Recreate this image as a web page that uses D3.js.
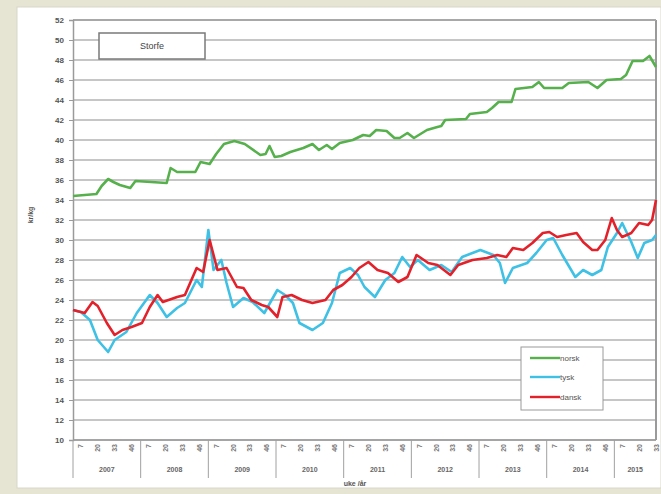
<!DOCTYPE html>
<html>
<head>
<meta charset="utf-8">
<script src="https://cdn.jsdelivr.net/npm/d3@7/dist/d3.min.js"></script>
<style>
  html, body { margin: 0; padding: 0; background: #e6e4d3; }
  svg { display: block; font-family: "Liberation Sans", Arial, sans-serif; }
</style>
</head>
<body>
<svg id="chart" width="661" height="494"></svg>
<script>
// ---- data (week index counted from week 1 of 2007) ----
const years = ["2007", "2008", "2009", "2010", "2011", "2012", "2013", "2014", "2015"];
const weekTickLabels = ["7", "20", "33", "46"];
const yTicks = d3.range(10, 53, 2);

const norskWeek = [0, 18, 22, 27, 31, 36, 44, 48, 60, 72, 75, 80, 94, 98, 105, 110, 116, 124, 132, 144, 148, 151, 155, 160, 167, 177, 184, 189, 195, 199, 205, 215, 223, 228, 233, 241, 247, 251, 257, 262, 267, 272, 280, 283, 286, 302, 305, 318, 322, 327, 337, 340, 353, 358, 362, 376, 381, 396, 403, 410, 421, 425, 430, 438, 443, 448];
const norskVal  = [34.4, 34.6, 35.4, 36.1, 35.8, 35.5, 35.2, 35.9, 35.8, 35.7, 37.2, 36.8, 36.8, 37.8, 37.6, 38.6, 39.6, 39.9, 39.6, 38.5, 38.6, 39.4, 38.3, 38.4, 38.8, 39.2, 39.6, 39.0, 39.5, 39.1, 39.7, 40.0, 40.5, 40.4, 41.0, 40.9, 40.2, 40.2, 40.7, 40.2, 40.6, 41.0, 41.3, 41.4, 42.0, 42.1, 42.6, 42.8, 43.2, 43.8, 43.8, 45.1, 45.3, 45.8, 45.2, 45.2, 45.7, 45.8, 45.2, 46.0, 46.1, 46.5, 47.9, 47.9, 48.4, 47.3];

const tyskWeek = [0, 6, 13, 19, 27, 32, 41, 49, 59, 65, 72, 80, 86, 95, 99, 104, 108, 114, 118, 123, 131, 138, 147, 157, 163, 169, 174, 184, 192, 199, 205, 213, 219, 224, 232, 240, 247, 253, 259, 265, 274, 283, 291, 299, 313, 323, 328, 332, 338, 349, 356, 364, 369, 376, 386, 392, 399, 406, 411, 418, 422, 429, 434, 439, 445, 448];
const tyskVal  = [23.0, 22.8, 22.0, 20.0, 18.8, 20.0, 20.8, 22.7, 24.5, 23.7, 22.3, 23.2, 23.7, 26.0, 25.3, 31.0, 27.0, 28.0, 25.7, 23.3, 24.2, 23.8, 22.7, 25.0, 24.5, 23.7, 21.7, 21.0, 21.7, 23.7, 26.7, 27.2, 26.5, 25.3, 24.3, 26.0, 26.7, 28.3, 27.3, 28.0, 27.0, 27.5, 26.8, 28.3, 29.0, 28.5, 27.7, 25.7, 27.2, 27.7, 28.7, 30.0, 30.2, 28.5, 26.3, 27.0, 26.5, 27.0, 29.3, 30.7, 31.7, 29.8, 28.2, 29.7, 30.0, 30.5];

const danskWeek = [0, 9, 15, 19, 26, 32, 38, 45, 53, 59, 65, 69, 80, 86, 95, 100, 105, 111, 118, 126, 131, 137, 145, 150, 157, 161, 168, 176, 184, 194, 200, 207, 214, 220, 227, 234, 242, 250, 257, 264, 273, 280, 290, 296, 307, 318, 326, 333, 338, 346, 353, 361, 366, 372, 379, 387, 392, 399, 403, 409, 414, 418, 422, 429, 435, 442, 445, 448];
const danskVal  = [23.0, 22.7, 23.8, 23.4, 21.7, 20.5, 21.0, 21.3, 21.7, 23.3, 24.5, 23.8, 24.3, 24.5, 27.2, 26.8, 30.0, 27.0, 27.2, 25.3, 25.2, 24.0, 23.5, 23.3, 22.3, 24.3, 24.5, 24.0, 23.7, 24.0, 25.0, 25.5, 26.3, 27.2, 27.8, 27.0, 26.7, 25.8, 26.3, 28.5, 27.7, 27.5, 26.5, 27.5, 28.0, 28.2, 28.5, 28.3, 29.2, 29.0, 29.7, 30.7, 30.8, 30.3, 30.5, 30.7, 29.8, 29.0, 29.0, 30.0, 32.2, 31.0, 30.3, 30.7, 31.7, 31.5, 32.0, 34.0];

const seriesNames = ["norsk", "tysk", "dansk"];
const seriesColors = ["#56b04c", "#3ec1e4", "#e3212b"];

// ---- layout ----
const svg = d3.select("#chart");
const plot = { left: 73, right: 656, top: 20, bottom: 440 };
const weeksPerYear = 52;
const lastWeek = 448;

const x = d3.scaleLinear().domain([0, lastWeek]).range([plot.left, plot.right]);
const y = d3.scaleLinear().domain([10, 52]).range([plot.bottom, plot.top]);

// white panel
svg.append("rect").attr("x", 17).attr("y", 7).attr("width", 661 - 17).attr("height", 488 - 7)
  .attr("fill", "#ffffff").attr("stroke", "#d8d6c8").attr("stroke-width", 1);

// gridlines
svg.append("g").selectAll("line").data(yTicks).join("line")
  .attr("x1", plot.left).attr("x2", plot.right)
  .attr("y1", d => y(d)).attr("y2", d => y(d))
  .attr("stroke", "#c6c6c6").attr("stroke-width", 2.2);

// plot border (right side + top)
svg.append("line").attr("x1", plot.right).attr("x2", plot.right).attr("y1", plot.top).attr("y2", plot.bottom)
  .attr("stroke", "#9a9a9a").attr("stroke-width", 2);
svg.append("line").attr("x1", plot.left).attr("x2", plot.right).attr("y1", plot.top).attr("y2", plot.top)
  .attr("stroke", "#a8a8a8").attr("stroke-width", 2);

// y axis
const yAxis = d3.axisLeft(y).tickValues(yTicks).tickSize(4).tickPadding(5).tickFormat(d3.format("d"));
const gy = svg.append("g").attr("transform", `translate(${plot.left},0)`).call(yAxis);
gy.select(".domain").attr("stroke", "#9a9a9a").attr("stroke-width", 1.5);
gy.selectAll(".tick line").attr("stroke", "#9a9a9a");
gy.selectAll("text").attr("fill", "#555").style("font-size", "8px").style("font-weight", "bold");

// x axis baseline
svg.append("line").attr("x1", plot.left).attr("x2", plot.right).attr("y1", plot.bottom).attr("y2", plot.bottom)
  .attr("stroke", "#9a9a9a").attr("stroke-width", 1.5);

// year separators and labels
const yearStarts = years.map((yr, i) => i * weeksPerYear);
svg.append("g").selectAll("line").data(yearStarts).join("line")
  .attr("x1", d => x(d)).attr("x2", d => x(d))
  .attr("y1", plot.bottom).attr("y2", plot.bottom + 38)
  .attr("stroke", "#a0a0a0").attr("stroke-width", 1);

svg.append("g").selectAll("text").data(years).join("text")
  .attr("x", (d, i) => (x(i * weeksPerYear) + x(Math.min((i + 1) * weeksPerYear, lastWeek))) / 2)
  .attr("y", plot.bottom + 32)
  .attr("text-anchor", "middle")
  .attr("fill", "#666").style("font-size", "7px").style("font-weight", "bold")
  .text(d => d);

// week tick labels (rotated)
const weekTicks = [];
years.forEach((yr, i) => {
  weekTickLabels.forEach(w => {
    const wk = i * weeksPerYear + (+w) - 1;
    if (wk <= lastWeek) weekTicks.push({ wk, label: w });
  });
});
svg.append("g").selectAll("text").data(weekTicks).join("text")
  .attr("transform", d => `translate(${x(d.wk) + 2.5},${plot.bottom + 4}) rotate(-90)`)
  .attr("text-anchor", "end")
  .attr("fill", "#777").style("font-size", "7px").style("font-weight", "bold")
  .text(d => d.label);

// axis titles
svg.append("text").attr("x", 355).attr("y", 486).attr("text-anchor", "middle")
  .attr("fill", "#555").style("font-size", "7px").style("font-weight", "bold").text("uke /år");
svg.append("text").attr("transform", "translate(33,215) rotate(-90)").attr("text-anchor", "middle")
  .attr("fill", "#555").style("font-size", "7px").style("font-weight", "bold").text("kr/kg");

// lines
const seriesData = [
  norskWeek.map((w, i) => [w, norskVal[i]]),
  tyskWeek.map((w, i) => [w, tyskVal[i]]),
  danskWeek.map((w, i) => [w, danskVal[i]])
];
const line = d3.line().x(d => x(d[0])).y(d => y(d[1]));
svg.append("g").selectAll("path").data(seriesData).join("path")
  .attr("d", line)
  .attr("fill", "none")
  .attr("stroke", (d, i) => seriesColors[i])
  .attr("stroke-width", 2.6)
  .attr("stroke-linejoin", "round");

// title box
svg.append("rect").attr("x", 99).attr("y", 33).attr("width", 106).attr("height", 26)
  .attr("fill", "#fff").attr("stroke", "#7a7a7a").attr("stroke-width", 1.5);
svg.append("text").attr("x", 152).attr("y", 49).attr("text-anchor", "middle")
  .attr("fill", "#444").style("font-size", "9px").text("Storfe");

// legend
const lg = svg.append("g");
lg.append("rect").attr("x", 521).attr("y", 347).attr("width", 82).attr("height", 63)
  .attr("fill", "#fff").attr("stroke", "#9a9a9a").attr("stroke-width", 1);
const legY = [358, 377, 397];
seriesNames.forEach((n, i) => {
  lg.append("line").attr("x1", 530).attr("x2", 560).attr("y1", legY[i]).attr("y2", legY[i])
    .attr("stroke", seriesColors[i]).attr("stroke-width", 2.4);
  lg.append("text").attr("x", 560).attr("y", legY[i] + 3).attr("fill", "#555")
    .style("font-size", "8px").text(n);
});
</script>
</body>
</html>
